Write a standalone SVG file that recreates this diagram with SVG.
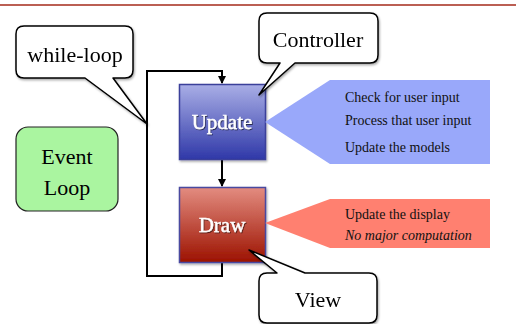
<svg xmlns="http://www.w3.org/2000/svg" width="516" height="324" viewBox="0 0 516 324">
  <defs>
    <linearGradient id="gUpdate" x1="0" y1="0" x2="0" y2="1">
      <stop offset="0" stop-color="#a9aee6"/>
      <stop offset="1" stop-color="#2f38a8"/>
    </linearGradient>
    <linearGradient id="gDraw" x1="0" y1="0" x2="0" y2="1">
      <stop offset="0" stop-color="#e38c80"/>
      <stop offset="1" stop-color="#9c1200"/>
    </linearGradient>
    <filter id="shadow" x="-10%" y="-10%" width="130%" height="130%">
      <feDropShadow dx="1" dy="1.5" stdDeviation="1" flood-color="#000" flood-opacity="0.35"/>
    </filter>
    <filter id="textShadow" x="-10%" y="-20%" width="130%" height="150%">
      <feDropShadow dx="0.8" dy="1" stdDeviation="0.6" flood-color="#000" flood-opacity="0.6"/>
    </filter>
    <marker id="arrow" markerWidth="8" markerHeight="8" refX="7" refY="4" orient="auto" markerUnits="userSpaceOnUse">
      <path d="M0,0 L8,4 L0,8 Z" fill="#000"/>
    </marker>
    <style>
      .bubble { fill: #fff; stroke: #000; stroke-width: 1.5; stroke-linejoin: round; }
      .bubbleText { font-family: "Liberation Serif", "Times New Roman", serif; font-size: 22px; fill: #000; text-anchor: middle; }
      .boxText { font-family: "Liberation Serif", "Times New Roman", serif; font-size: 21px; fill: #fff; text-anchor: middle; stroke: #fff; stroke-width: 0.4; }
      .noteText { font-family: "Liberation Serif", "Times New Roman", serif; font-size: 14px; fill: #111; }
      .link { fill: none; stroke: #000; stroke-width: 2; }
    </style>
  </defs>

  <!-- header rule -->
  <line x1="0" y1="5" x2="516" y2="5" stroke="#a52a1a" stroke-width="1.6"/>

  <!-- connectors: loop back edge and update-to-draw -->
  <g id="connectors">
    <path class="link" d="M222,262 V276 H147 V71 H222 V83" marker-end="url(#arrow)"/>
    <path class="link" d="M222,160 V186" marker-end="url(#arrow)"/>
  </g>

  <!-- while-loop callout -->
  <g id="while-loop" filter="url(#shadow)">
    <path class="bubble" d="M24,26 H125 Q133,26 133,34 V70 Q133,78 125,78 H113 L147,124 L85,78 H24 Q16,78 16,70 V34 Q16,26 24,26 Z"/>
    <text class="bubbleText" x="75" y="62">while-loop</text>
  </g>

  <!-- update node -->
  <g id="update">
    <rect x="179.5" y="84.5" width="86" height="75" fill="url(#gUpdate)" stroke="#3b3f9a" stroke-width="1.5" filter="url(#shadow)"/>
    <text class="boxText" x="222" y="129" filter="url(#textShadow)">Update</text>
  </g>

  <!-- draw node -->
  <g id="draw">
    <rect x="179.5" y="187.5" width="86" height="75" fill="url(#gDraw)" stroke="#4a4aa0" stroke-width="1.5" filter="url(#shadow)"/>
    <text class="boxText" x="222" y="232" filter="url(#textShadow)">Draw</text>
  </g>

  <!-- controller callout, tail overlaps the update box -->
  <g id="controller" filter="url(#shadow)">
    <path class="bubble" d="M267,13 H370 Q378,13 378,21 V55 Q378,63 370,63 H295 L259,95 L280,63 H267 Q259,63 259,55 V21 Q259,13 267,13 Z"/>
    <text class="bubbleText" x="318" y="47">Controller</text>
  </g>

  <!-- view callout, tail overlaps the draw box -->
  <g id="view" filter="url(#shadow)">
    <path class="bubble" d="M267,273 H277 L249,250 L305,273 H369 Q377,273 377,281 V315 Q377,323 369,323 H267 Q259,323 259,315 V281 Q259,273 267,273 Z"/>
    <text class="bubbleText" x="318" y="307">View</text>
  </g>

  <!-- event loop label -->
  <g id="event-loop">
    <rect x="16" y="127" width="102" height="84" rx="12" fill="#aaf5a0" stroke="#222" stroke-width="1.2"/>
    <text class="bubbleText" x="67" y="164" font-size="25">Event</text>
    <text class="bubbleText" x="67" y="195" font-size="25">Loop</text>
  </g>

  <!-- controller responsibilities -->
  <g id="update-note">
    <path d="M265,122 L330,80 H490 V164 H330 Z" fill="#99a8fa"/>
    <text class="noteText" x="345" y="102">Check for user input</text>
    <text class="noteText" x="345" y="125">Process that user input</text>
    <text class="noteText" x="345" y="152">Update the models</text>
  </g>

  <!-- view responsibilities -->
  <g id="draw-note">
    <path d="M265,223 L330,199 H490 V248 H330 Z" fill="#ff8070"/>
    <text class="noteText" x="345" y="219">Update the display</text>
    <text class="noteText" x="345" y="240" font-style="italic">No major computation</text>
  </g>
</svg>
